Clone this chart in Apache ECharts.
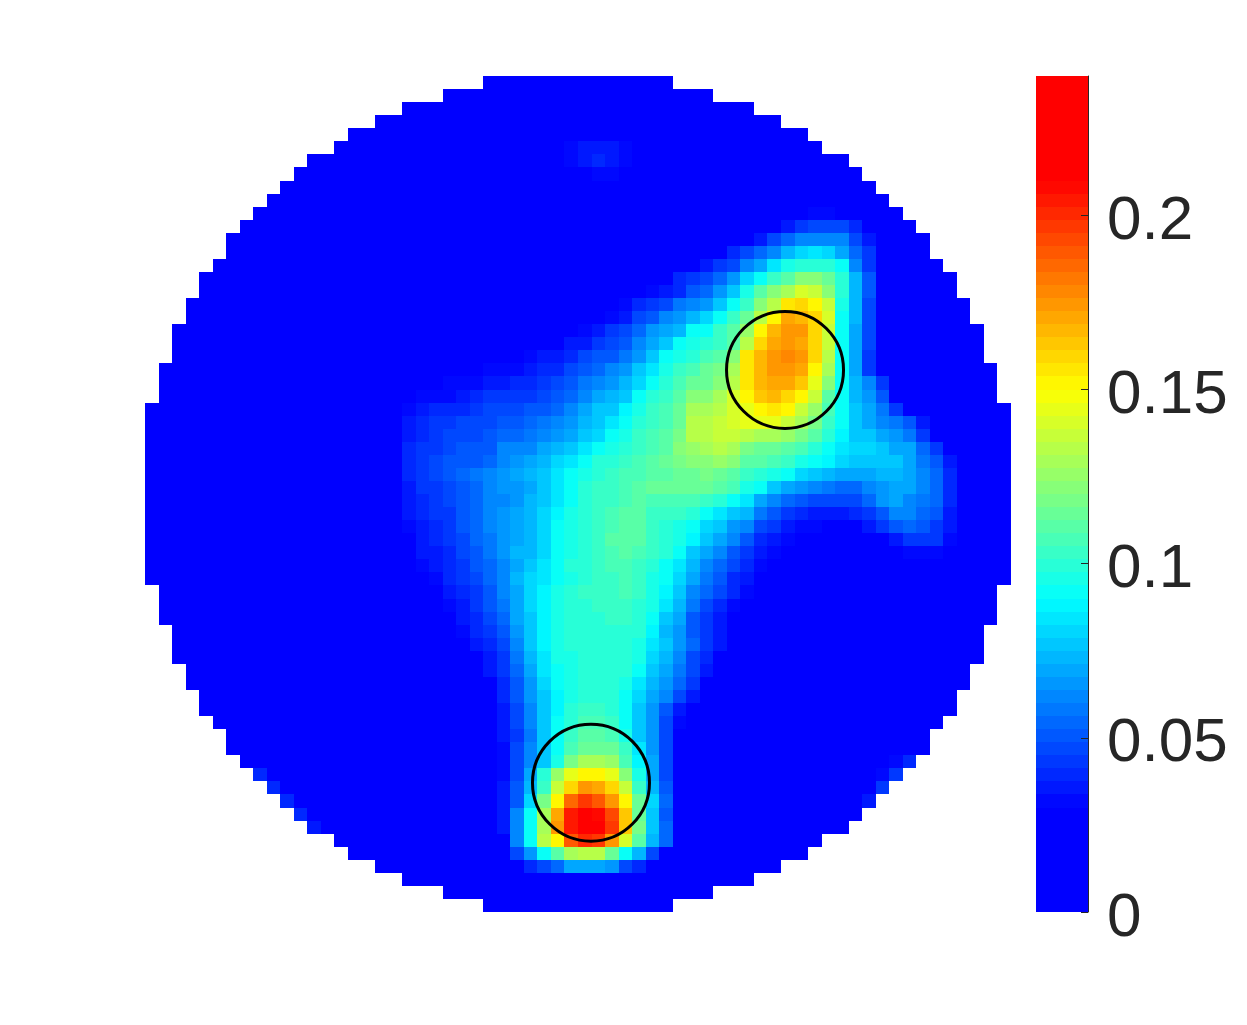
<!DOCTYPE html>
<html>
<head>
<meta charset="utf-8">
<style>
html,body{margin:0;padding:0;background:#fff}
#main{width:1247px;height:1025px}
</style>
<script src="https://cdn.jsdelivr.net/npm/echarts@6/dist/echarts.min.js"></script>
</head>
<body>
<div id="main"></div>
<script>
// first column inside the disk for the upper half of the rows, the lower half mirrors it
var diskFirstCol = [25,22,19,17,15,14,12,11,10,9,8,7,6,6,5,4,4,3,3,2,2,2,1,1,1,0,0,0,0,0,0,0]

// values, in thousandths: [row, first column, values...]
// every other cell inside the disk is background (0)
var plumeRows = [
	[5,31, 32,34,34,34,32],
	[6,31, 32,34,38,34,32],
	[7,33, 32,32],
	[10,49, 32,32],
	[11,47, 36,44,47,47,46,40],
	[12,45, 36,46,54,62,63,63,60,46,36],
	[13,43, 39,46,53,60,74,82,84,82,68,56,44],
	[14,41, 34,42,48,60,70,86,97,100,100,100,90,60,44],
	[15,39, 38,42,48,56,65,79,92,104,110,120,120,114,100,72,50],
	[16,37, 32,37,40,52,56,66,78,96,112,120,130,140,138,122,100,74,50],
	[17,35, 31,40,44,47,58,63,66,76,90,104,120,134,157,160,150,138,94,72,48],
	[18,34, 32,37,45,52,60,66,74,82,92,102,116,134,150,172,168,158,140,92,72,46],
	[19,32, 32,35,42,45,55,64,70,74,90,92,102,112,124,150,166,174,173,160,138,90,70,46],
	[20,31, 35,37,42,47,50,62,70,76,90,95,100,104,112,134,160,170,176,172,160,136,90,70,46],
	[21,28, 32,36,36,40,45,50,52,57,66,76,90,95,100,106,112,122,154,168,174,177,174,159,134,90,68,44],
	[22,25, 32,32,33,37,40,40,46,50,55,60,66,77,86,96,102,108,114,118,128,156,168,175,176,172,150,130,90,68,44],
	[23,22, 31,32,33,36,37,38,40,43,47,52,57,62,65,72,82,92,100,106,114,116,122,134,156,168,172,170,162,144,120,92,74,62,44],
	[24,20, 31,31,33,35,40,42,42,42,44,47,50,54,60,70,74,78,90,98,104,110,120,122,128,140,152,164,165,160,150,136,112,90,74,65,50],
	[25,19, 32,35,38,40,41,44,46,46,46,50,52,55,60,68,75,78,88,95,102,106,114,128,128,134,142,146,152,155,150,138,126,108,92,76,68,58,44],
	[26,19, 36,38,42,44,45,46,48,50,50,54,58,62,64,72,78,84,90,98,104,108,116,132,134,138,142,146,146,146,138,128,118,102,90,78,70,63,58,49,34],
	[27,19, 37,40,42,45,46,47,50,54,54,58,62,64,68,76,82,90,96,102,106,110,118,132,134,136,138,134,130,128,124,118,110,98,88,78,77,70,65,58,44],
	[28,19, 38,42,44,48,50,50,52,60,60,62,70,72,76,84,90,96,100,104,108,112,122,124,128,134,130,118,116,114,112,106,100,92,86,80,79,75,70,68,56,44],
	[29,19, 38,42,46,50,50,52,56,60,64,68,72,80,84,92,98,100,104,108,110,114,118,120,122,124,120,112,110,106,102,96,92,88,80,76,75,75,75,70,58,49,37],
	[30,19, 38,42,46,52,54,58,60,64,70,74,78,84,90,94,100,104,106,108,110,112,114,116,118,116,110,104,98,94,90,80,76,74,70,70,70,72,72,70,63,53,41],
	[31,19, 36,42,44,46,52,56,60,64,66,70,78,84,92,98,102,104,108,112,114,114,116,115,114,112,108,94,90,76,68,66,62,58,56,56,60,65,70,68,60,55,41],
	[32,19, 34,40,42,45,50,56,60,62,66,72,78,86,92,98,102,104,108,110,108,108,106,106,104,100,90,84,70,60,54,50,47,46,46,48,55,65,68,63,58,53,39],
	[33,19, 34,38,42,44,50,56,62,64,68,74,80,88,94,98,102,106,110,112,104,104,102,98,92,84,76,72,58,50,44,40,37,36,35,38,44,51,60,60,55,49,37],
	[34,19, 33,37,40,44,50,56,62,66,68,74,82,90,96,100,104,108,112,112,102,100,96,92,82,78,66,60,48,42,36,33,31,0,0,0,37,42,49,53,49,44,34],
	[35,20, 36,38,42,48,54,58,66,68,74,80,90,96,100,104,110,112,110,102,98,94,88,78,68,60,50,40,34,31,0,0,0,0,0,0,0,37,42,42,42,32],
	[36,20, 35,36,40,46,52,58,64,72,74,80,90,96,100,104,108,110,108,102,98,90,78,68,60,50,44,36,31,0,0,0,0,0,0,0,0,0,31,31,31],
	[37,20, 33,36,40,44,50,56,62,70,78,84,92,98,100,102,106,108,104,98,92,84,72,62,54,46,38,33],
	[38,21, 33,38,42,46,54,62,72,80,86,92,96,100,102,104,106,102,96,90,80,68,58,50,40,35],
	[39,22, 34,38,44,52,60,70,80,88,94,98,102,102,104,106,102,96,88,76,62,54,46,38,33],
	[40,22, 33,36,42,50,58,70,80,88,94,98,100,102,104,104,100,94,84,72,58,48,40,33],
	[41,23, 34,40,48,56,68,78,88,94,98,100,100,102,102,98,90,76,68,52,44,36],
	[42,23, 33,38,42,52,66,78,88,94,98,100,100,100,100,98,88,72,64,50,42,34],
	[43,24, 34,40,48,62,76,88,94,98,100,100,100,100,96,86,76,64,54,44,36],
	[44,25, 37,44,58,72,86,94,96,98,100,100,98,94,80,72,60,48,40],
	[45,25, 34,42,56,70,84,92,96,98,100,100,98,90,78,68,58,46,36],
	[46,26, 40,52,66,80,90,96,98,100,100,94,84,74,64,54,42],
	[47,26, 38,50,64,78,88,94,98,100,100,92,80,70,60,48,36],
	[48,26, 36,48,62,76,88,98,104,104,100,90,76,66,52,36],
	[49,26, 36,48,62,76,90,100,106,106,102,92,76,64,48,33],
	[50,26, 34,44,58,76,90,104,110,110,108,94,78,66,46],
	[51,26, 33,45,60,76,90,108,114,116,114,102,84,66,48],
	[52,26, 33,45,62,78,96,118,128,128,126,108,88,68,48],
	[53,26, 33,46,70,100,124,144,152,152,144,122,94,70,48],
	[54,26, 34,50,74,104,136,160,176,172,158,136,104,72,50],
	[55,26, 34,52,80,118,150,186,198,190,174,150,116,80,54],
	[56,26, 36,60,90,130,172,204,210,208,192,164,116,76,52],
	[57,26, 36,60,92,130,174,206,214,212,198,162,118,78,54],
	[58,27, 62,92,134,150,190,200,198,176,140,112,72,55],
	[59,27, 45,66,92,112,128,134,134,114,92,74,48],
	[60,28, 38,46,55,68,68,68,64,46,40],
	// faint cells along the rim
	[52,55, 33,38],
	[53,8, 39],
	[53,54, 33,44],
	[54,9, 41],
	[54,54, 42],
	[55,10, 39],
	[55,53, 37],
	[56,11, 39],
	[57,12, 35]
]

var circleCenters = [[47.3,22.5],[32.96,54.1]]

var colorMin = 0
var colorMax = 0.24
var colorLevels = 64
var colorbarTicks = [0,0.05,0.1,0.15,0.2]

function clamp01(v){
	return Math.max(0,Math.min(1,v))
}
// jet with both ends clipped
function levelColor(f){
	var r = clamp01((f-3/8)*4)
	var g = f<0.5 ? clamp01((f-1/8)*4) : clamp01((7/8-f)*4)
	var b = clamp01((5/8-f)*4)
	return 'rgb('+Math.round(r*255)+','+Math.round(g*255)+','+Math.round(b*255)+')'
}

var pieces = []
var barData = []
for(var l=0;l<colorLevels;l++){
	var lo = colorMin+(colorMax-colorMin)*l/colorLevels
	var hi = colorMin+(colorMax-colorMin)*(l+1)/colorLevels
	pieces.push({gte:lo,lt:l==colorLevels-1?9:hi,color:levelColor((l+0.5)/colorLevels)})
	barData.push([lo,hi,(lo+hi)/2])
}

var plumeLookup = {}
plumeRows.forEach(function(p){
	for(var k=2;k<p.length;k++){
		if(p[k]) plumeLookup[p[0]+'_'+(p[1]+k-2)] = p[k]
	}
})

var cells = []
for(var r=0;r<64;r++){
	var first = diskFirstCol[r<32?r:63-r]
	for(var c=first;c<64-first;c++){
		cells.push([c,r,(plumeLookup[r+'_'+c]||0)/1000])
	}
}

// whole pixel edges, so neighbouring cells never leave a seam
function snappedRect(a,b,api){
	var x0 = Math.round(a[0])
	var y0 = Math.round(a[1])
	var x1 = Math.round(b[0])
	var y1 = Math.round(b[1])
	return {
		type:'rect',
		shape:{x:Math.min(x0,x1),y:Math.min(y0,y1),width:Math.abs(x1-x0),height:Math.abs(y1-y0)},
		style:{fill:api.visual('color')}
	}
}
function renderCell(params,api){
	var c = api.value(0)
	var r = api.value(1)
	return snappedRect(api.coord([c,r]),api.coord([c+1,r+1]),api)
}
function renderBarLevel(params,api){
	return snappedRect(api.coord([0,api.value(0)]),api.coord([1,api.value(1)]),api)
}

var myChart = echarts.init(document.getElementById('main'),null,{renderer:'canvas'})
var option = {
	animation:false,
	backgroundColor:'#ffffff',
	tooltip:{show:false},
	grid:[
		{left:145,top:76,width:866,height:836},
		{left:1036,top:76,width:52,height:836}
	],
	xAxis:[
		{type:'value',gridIndex:0,min:0,max:64,show:false},
		{type:'value',gridIndex:1,min:0,max:1,show:false}
	],
	yAxis:[
		{type:'value',gridIndex:0,min:0,max:64,inverse:true,show:false},
		{
			type:'value',gridIndex:1,position:'right',min:colorMin,max:colorMax,
			z:5,
			splitLine:{show:false},
			axisLine:{show:true,onZero:false,lineStyle:{color:'#262626',width:1}},
			axisTick:{show:true,inside:true,length:7,customValues:colorbarTicks,lineStyle:{color:'#262626',width:1}},
			axisLabel:{
				show:true,margin:19,customValues:colorbarTicks,
				verticalAlign:'top',lineHeight:13,
				fontFamily:'Liberation Sans',fontSize:62,color:'#262626',
				formatter:function(v){return String(v)}
			}
		}
	],
	visualMap:{
		show:false,type:'piecewise',seriesIndex:[0,1],dimension:2,pieces:pieces
	},
	series:[
		{
			type:'custom',xAxisIndex:0,yAxisIndex:0,data:cells,
			encode:{x:0,y:1},renderItem:renderCell,silent:true,progressive:0
		},
		{
			type:'custom',xAxisIndex:1,yAxisIndex:1,data:barData,
			encode:{y:[0,1]},renderItem:renderBarLevel,silent:true,progressive:0
		},
		{
			type:'scatter',xAxisIndex:0,yAxisIndex:0,data:circleCenters,z:5,
			symbol:'circle',symbolSize:117,
			itemStyle:{color:'rgba(0,0,0,0)',borderColor:'#000000',borderWidth:3,opacity:1},
			emphasis:{disabled:true},silent:true
		}
	]
}
myChart.setOption(option)
</script>
</body>
</html>
